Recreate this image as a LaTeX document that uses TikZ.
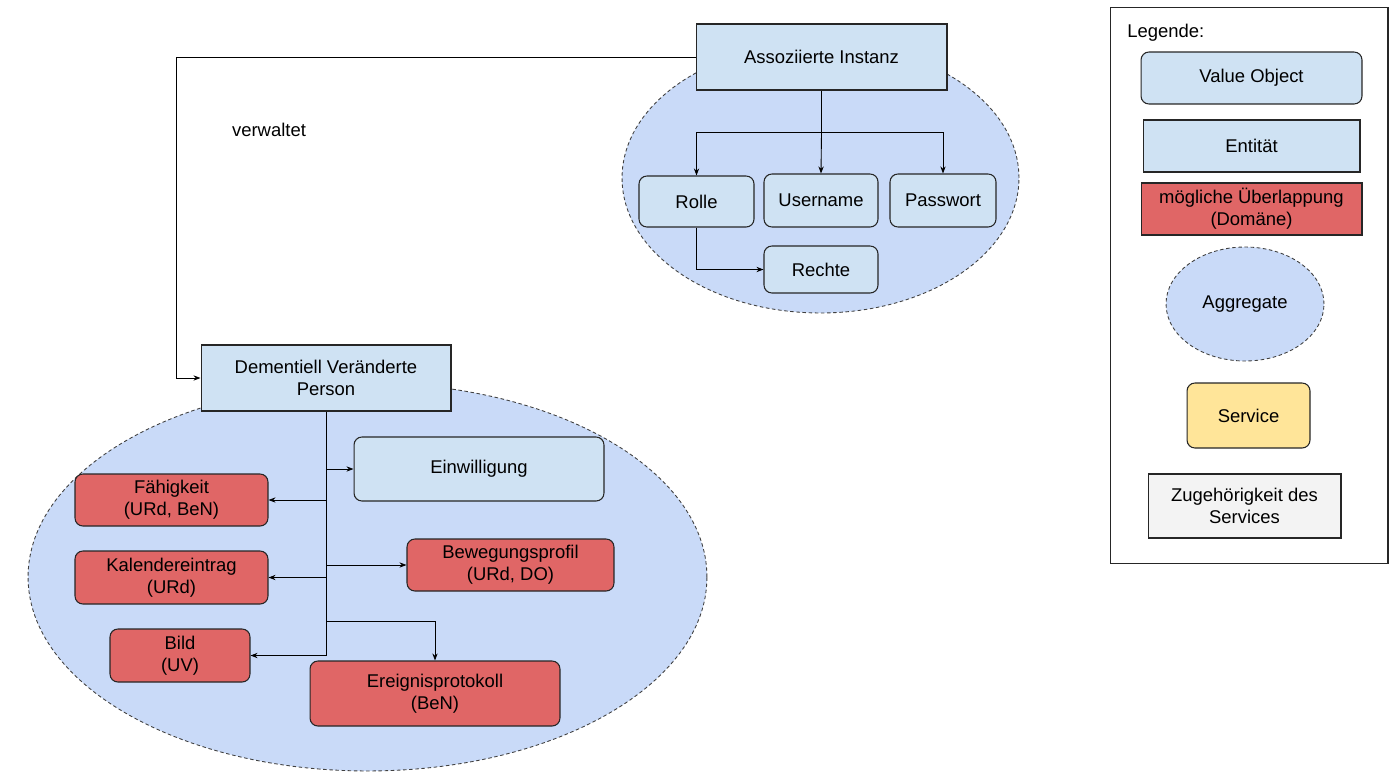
\documentclass[tikz,border=0pt]{standalone}
\usepackage{fontspec}
\setmainfont{Liberation Sans}
\usetikzlibrary{shapes.geometric,arrows.meta,positioning}

\definecolor{entityblue}{HTML}{CFE2F3}
\definecolor{aggblue}{HTML}{C9DAF8}
\definecolor{domainred}{HTML}{E06666}
\definecolor{serviceyellow}{HTML}{FFE599}
\definecolor{ownergray}{HTML}{F3F3F3}

\begin{document}
\begin{tikzpicture}[
    x=0.02cm, y=-0.02cm,
    font=\fontsize{10.5}{12.5}\selectfont,
    every node/.style={align=center, inner sep=2pt},
    entity/.style={rectangle, draw=black!85, line width=0.6pt, fill=entityblue},
    valueobj/.style={entity, rounded corners=4.5pt},
    overlap/.style={rectangle, draw=black!85, line width=0.6pt, fill=domainred, rounded corners=4.5pt},
    aggregate/.style={ellipse, draw=black!75, dash pattern=on 2pt off 1.5pt, line width=0.5pt, fill=aggblue, inner sep=0pt},
    link/.style={-{Stealth[length=4pt,width=3pt]}, line width=0.5pt}
]
\useasboundingbox (0,0) rectangle (1392,774);

% aggregates
\node[aggregate, minimum width=7.94cm, minimum height=5.4cm] (aggInstanz) at (820.5,178) {};
\node[aggregate, minimum width=13.58cm, minimum height=7.76cm] (aggPerson) at (367.5,577) {};

% associated instance
\node[entity, minimum width=5.02cm, minimum height=1.32cm] (instanz) at (821.5,57) {Assoziierte Instanz};
\node[valueobj, minimum width=2.3cm, minimum height=1.02cm] (rolle) at (696.5,201.5) {Rolle};
\node[valueobj, minimum width=2.28cm, minimum height=1.06cm] (username) at (821,200.5) {Username};
\node[valueobj, minimum width=2.12cm, minimum height=1.06cm] (passwort) at (943,200.5) {Passwort};
\node[valueobj, minimum width=2.28cm, minimum height=0.94cm] (rechte) at (821,269.5) {Rechte};

\coordinate (instFork) at (821.5,132);
\draw[line width=0.5pt] (instanz.south) -- (instFork);
\draw[link] (instFork) -| (rolle.north);
\draw[link] (instFork) -- (username.north);
\draw[link] (instFork) -| (passwort.north);
\draw[link] (rolle.south) |- (rechte.west);

% person
\node[entity, minimum width=5cm, minimum height=1.32cm] (person) at (326,378) {Dementiell Veränderte\\Person};
\node[valueobj, minimum width=5cm, minimum height=1.28cm] (einwilligung) at (479,469) {Einwilligung};
\node[overlap, minimum width=3.86cm, minimum height=1.04cm] (faehigkeit) at (171.5,500) {Fähigkeit\\(URd, BeN)};
\node[overlap, minimum width=3.86cm, minimum height=1.06cm] (kalender) at (171.5,577.5) {Kalendereintrag\\(URd)};
\node[overlap, minimum width=2.8cm, minimum height=1.06cm] (bild) at (180,655.5) {Bild\\(UV)};
\node[overlap, minimum width=4.14cm, minimum height=1.04cm] (bewegung) at (510.5,565) {Bewegungsprofil\\(URd, DO)};
\node[overlap, minimum width=5cm, minimum height=1.3cm] (ereignis) at (435,693.5) {Ereignisprotokoll\\(BeN)};

\coordinate (personEnd) at (326,655.5);
\coordinate (ereigFork) at (326,621);
\draw[line width=0.5pt] (person.south) -- (personEnd);
\draw[link] (person.south |- einwilligung.west) -- (einwilligung.west);
\draw[link] (person.south |- faehigkeit.east) -- (faehigkeit.east);
\draw[link] (person.south |- bewegung.west) -- (bewegung.west);
\draw[link] (person.south |- kalender.east) -- (kalender.east);
\draw[link] (ereigFork) -| (ereignis.north);
\draw[link] (personEnd) -- (bild.east);

% verwaltet
\coordinate (verwBend) at (176,57);
\draw[link] (instanz.west) -- (verwBend) |- (person.west);
\node (verwaltet) at (269,130) {verwaltet};

% legend
\node[rectangle, draw=black!85, line width=0.6pt, minimum width=5.56cm, minimum height=11.14cm] (legende) at (1249,285.5) {};
\node[anchor=west, inner sep=0pt] (legTitle) at (1127,33) {Legende:};
\node[valueobj, minimum width=4.42cm, minimum height=1.04cm] (legValue) at (1251.5,78) {Value Object};
\node[entity, minimum width=4.34cm, minimum height=1.04cm] (legEntity) at (1251.5,146) {Entität};
\node[overlap, sharp corners, minimum width=4.42cm, minimum height=1.04cm] (legOverlap) at (1251.5,209) {mögliche Überlappung\\(Domäne)};
\node[aggregate, minimum width=3.16cm, minimum height=2.28cm] (legAggregate) at (1245,304) {Aggregate};
\node[rectangle, rounded corners=4.5pt, draw=black!85, line width=0.6pt, fill=serviceyellow, minimum width=2.46cm, minimum height=1.3cm] (legService) at (1248.5,415.5) {Service};
\node[rectangle, draw=black!85, line width=0.6pt, fill=ownergray, minimum width=3.86cm, minimum height=1.28cm] (legOwner) at (1244.5,506) {Zugehörigkeit des\\Services};

\end{tikzpicture}
\end{document}
